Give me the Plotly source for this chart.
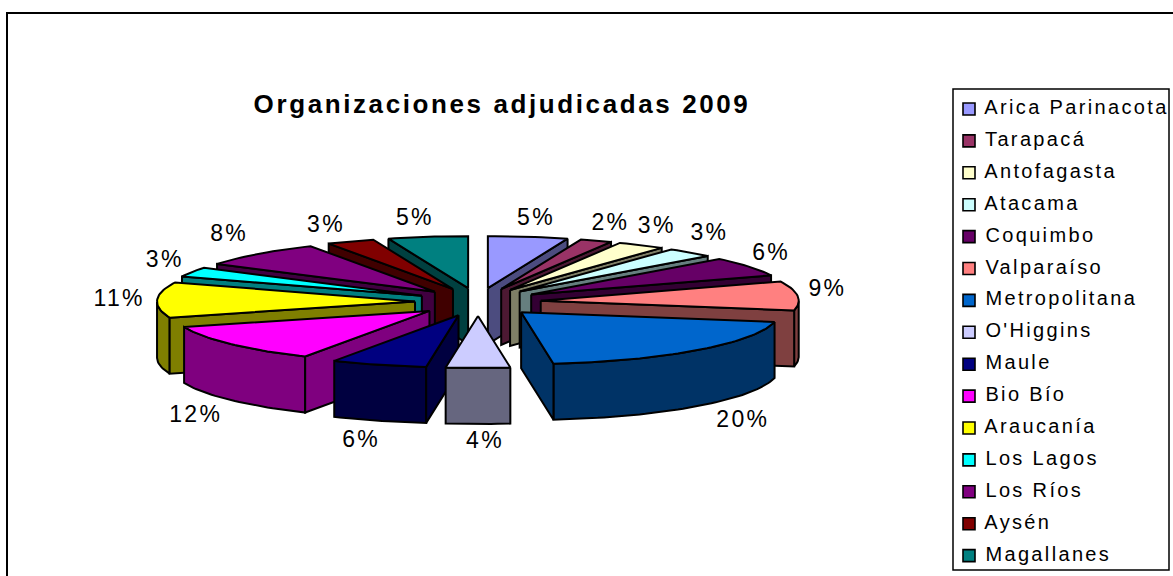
import math
import plotly.graph_objects as go

regions = ["Arica Parinacota", "Tarapacá", "Antofagasta", "Atacama", "Coquimbo",
           "Valparaíso", "Metropolitana", "O'Higgins", "Maule", "Bio Bío",
           "Araucanía", "Los Lagos", "Los Ríos", "Aysén", "Magallanes"]
shares = [5, 2, 3, 3, 6, 9, 20, 4, 6, 12, 11, 3, 8, 3, 5]
colors = ["#9999FF", "#993366", "#FFFFCC", "#CCFFFF", "#660066",
          "#FF8080", "#0066CC", "#CCCCFF", "#000080", "#FF00FF",
          "#FFFF00", "#00FFFF", "#800080", "#800000", "#008080"]
title = "Organizaciones adjudicadas 2009"

W, H = 1173, 576
CX, CY = 478, 302
RX, RY = 258, 52
EX, EY = 63, 14
DEPTH = 56
LX, LY = 365, 85
FONT = "Liberation Sans"
# small per-label placement adjustments around the computed anchor
NUDGE_X = [1, -2, -7, -10, -15, -14, 15, 7, -4, -1, 6, 12, 1, -7, -6]
NUDGE_Y = [1, 1, -2, -4, -2, -4, 1, -1, 2, 4, 1, -2, -5, 2, 1]


def dark(c):
    r, g, b = (int(c[i:i + 2], 16) // 2 for i in (1, 3, 5))
    return f"rgb({r},{g},{b})"


def poly(fig, pts, fill):
    fig.add_trace(go.Scatter(
        x=[p[0] for p in pts] + [pts[0][0]],
        y=[p[1] for p in pts] + [pts[0][1]],
        mode="lines", fill="toself", fillcolor=fill,
        line=dict(color="black", width=2), hoverinfo="skip", showlegend=False))


fig = go.Figure()
total = sum(shares)
slices = []
cum = 0
for name, v, c in zip(regions, shares, colors):
    a0 = cum / total * 2 * math.pi
    cum += v
    a1 = cum / total * 2 * math.pi
    slices.append((a0, a1, c, (a0 + a1) / 2))

# back-to-front painter's order
for a0, a1, c, mid in sorted(slices, key=lambda s: math.cos(s[3]), reverse=True):
    tx = CX + EX * math.sin(mid)
    ty = CY - EY * math.cos(mid)
    n = max(4, int((a1 - a0) * 40))
    ang = [a0 + (a1 - a0) * i / n for i in range(n + 1)]
    arc = [(tx + RX * math.sin(a), ty - RY * math.cos(a)) for a in ang]
    # outer wall: only the forward-facing part of the rim
    front = [(tx + RX * math.sin(a), ty - RY * math.cos(a)) for a in ang if math.cos(a) < 0]
    if len(front) > 1:
        poly(fig, front + [(x, y + DEPTH) for x, y in reversed(front)], dark(c))
    # radial walls when they face the viewer
    if math.sin(a0) < -1e-9:
        p = arc[0]
        poly(fig, [(tx, ty), p, (p[0], p[1] + DEPTH), (tx, ty + DEPTH)], dark(c))
    if math.sin(a1) > 1e-9:
        p = arc[-1]
        poly(fig, [(tx, ty), p, (p[0], p[1] + DEPTH), (tx, ty + DEPTH)], dark(c))
    poly(fig, [(tx, ty)] + arc, c)

# percentage labels
lab_x, lab_y, lab_t = [], [], []
for i, ((a0, a1, c, mid), v) in enumerate(zip(slices, shares)):
    lab_x.append(CX + LX * math.sin(mid) + NUDGE_X[i])
    lab_y.append(CY - LY * math.cos(mid) + (DEPTH if math.cos(mid) < 0 else 0) + NUDGE_Y[i])
    lab_t.append(f"{round(v / total * 100)}%")
fig.add_trace(go.Scatter(x=lab_x, y=lab_y, text=lab_t, mode="text", textposition="middle center",
                         textfont=dict(family=FONT, size=23, color="black"),
                         hoverinfo="skip", showlegend=False))

# legend built from the same category list
fig.add_trace(go.Scatter(
    x=[969] * len(regions), y=[109 + 31.9 * i for i in range(len(regions))],
    text=[" " + r for r in regions], mode="markers+text", textposition="middle right",
    marker=dict(symbol="square", size=12, color=colors, line=dict(color="black", width=1.6)),
    textfont=dict(family=FONT, size=20, color="black"), hoverinfo="skip", showlegend=False))

fig.update_layout(
    width=W, height=H, autosize=False, margin=dict(l=0, r=0, t=0, b=0),
    paper_bgcolor="white", plot_bgcolor="white", showlegend=False,
    xaxis=dict(range=[0, W], visible=False, fixedrange=True),
    yaxis=dict(range=[H, 0], visible=False, fixedrange=True),
    title=dict(text=f"<b>{title}</b>", x=502 / W, xanchor="center", y=1 - 104 / H, yanchor="middle",
               font=dict(family=FONT, size=26, color="black")),
    shapes=[
        dict(type="rect", x0=7, y0=13, x1=W + 5, y1=H + 5, line=dict(color="black", width=2),
             fillcolor="rgba(0,0,0,0)", layer="below"),
        dict(type="rect", x0=953, y0=89, x1=1169, y1=570, line=dict(color="black", width=1.5),
             fillcolor="white", layer="below"),
    ],
)
post = """
document.body.style.margin = '0';
document.body.style.overflow = 'hidden';
var st = document.createElement('style');
st.textContent = '.textpoint text{letter-spacing:2.35px} .gtitle{letter-spacing:2.6px}';
document.head.appendChild(st);
"""
fig.write_html("out.html", config=dict(displayModeBar=False), post_script=post)
